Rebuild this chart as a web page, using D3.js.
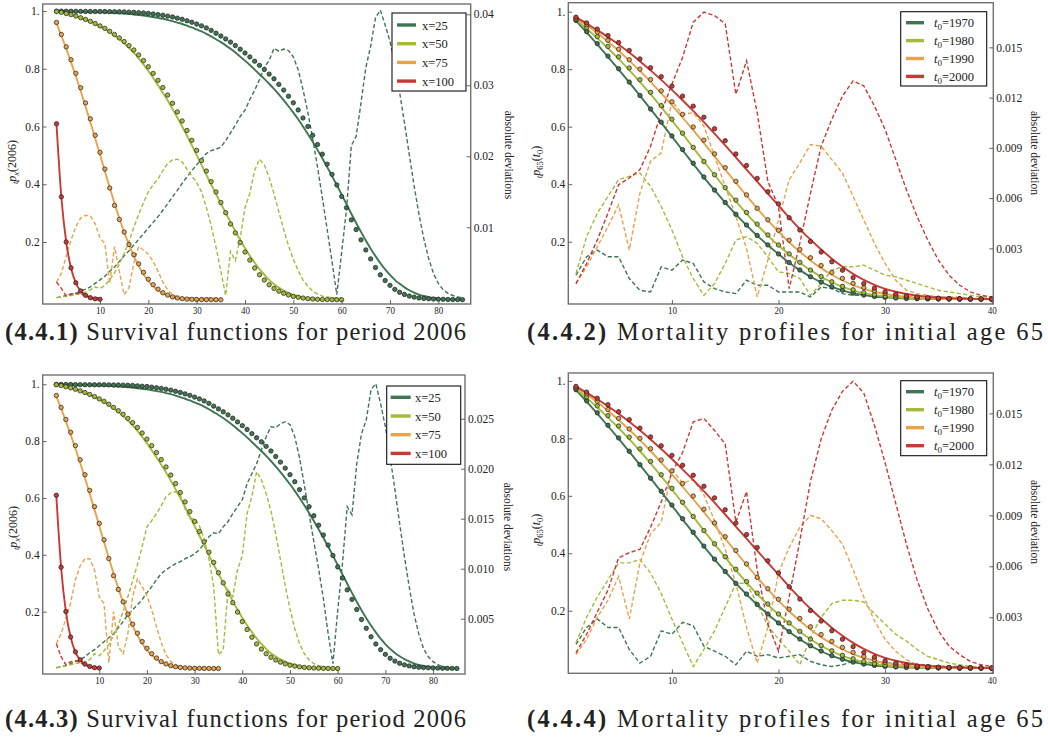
<!DOCTYPE html>
<html><head><meta charset="utf-8">
<script src="https://cdn.jsdelivr.net/npm/d3@7"></script>
<style>
body{margin:0;background:#fff}
svg{display:block}
text{font-family:"Liberation Serif","DejaVu Serif","Noto Serif",serif;fill:#222}
</style>
</head><body>
<svg id="c" width="1048" height="739"></svg>
<script>
// ---------- Survival functions, period 2006 (t = 1..n) ----------
const fit25 = [0.9995,0.9992,0.9988,0.9984,0.9980,0.9975,0.9970,0.9965,0.9960,0.9955,
 0.9950,0.9940,0.9930,0.9920,0.9910,0.9895,0.9880,0.9860,0.9840,0.9820,
 0.9790,0.9760,0.9730,0.9690,0.9650,0.9600,0.9550,0.9490,0.9430,0.9360,
 0.9290,0.9210,0.9120,0.9020,0.8920,0.8810,0.8690,0.8560,0.8420,0.8280,
 0.8130,0.7970,0.7810,0.7650,0.7480,0.7300,0.7110,0.6910,0.6700,0.6480,
 0.6250,0.6000,0.5740,0.5470,0.5190,0.4900,0.4600,0.4290,0.3970,0.3640,
 0.3310,0.2980,0.2660,0.2350,0.2050,0.1770,0.1510,0.1270,0.1050,0.0860,
 0.0690,0.0550,0.0430,0.0330,0.0250,0.0180,0.0130,0.0090,0.0060,0.0040,
 0.0027,0.0018,0.0011,0.0007,0.0004];
const obs25 = [0.9996,0.9994,0.9992,0.9990,0.9987,0.9985,0.9983,0.9981,0.9981,0.9981,
 0.9981,0.9978,0.9974,0.9972,0.9970,0.9962,0.9955,0.9943,0.9931,0.9919,
 0.9897,0.9875,0.9854,0.9823,0.9793,0.9752,0.9712,0.9661,0.9610,0.9548,
 0.9486,0.9414,0.9328,0.9230,0.9133,0.9032,0.8923,0.8804,0.8676,0.8545,
 0.8410,0.8263,0.8118,0.7975,0.7815,0.7652,0.7458,0.7261,0.7049,0.6820,
 0.6572,0.6294,0.6002,0.5695,0.5375,0.5042,0.4697,0.4342,0.3975,0.3575,
 0.3185,0.2765,0.2432,0.2075,0.1725,0.1415,0.1115,0.0864,0.0665,0.0498,
 0.0360,0.0260,0.0183,0.0128,0.0092,0.0062,0.0046,0.0034,0.0025,0.0019,
 0.0015,0.0011,0.0007,0.0005,0.0003];
const fit50 = [0.998,0.995,0.991,0.987,0.982,0.976,0.970,0.963,0.955,0.947,
 0.938,0.927,0.915,0.902,0.888,0.872,0.855,0.836,0.815,0.792,
 0.768,0.743,0.717,0.690,0.661,0.631,0.600,0.568,0.535,0.501,
 0.467,0.433,0.399,0.366,0.333,0.301,0.269,0.237,0.207,0.178,
 0.152,0.128,0.106,0.087,0.069,0.054,0.042,0.032,0.024,0.017,
 0.0125,0.0085,0.0056,0.0036,0.0022,0.0013,0.0008,0.0004,0.0002,0.0001];
const obs50 = [0.9981,0.9952,0.9913,0.9874,0.9825,0.9767,0.9709,0.9642,0.9566,0.9484,
 0.9398,0.9296,0.9186,0.9068,0.8943,0.8800,0.8650,0.8478,0.8285,0.8070,
 0.7840,0.7598,0.7350,0.7090,0.6805,0.6506,0.6192,0.5862,0.5522,0.5173,
 0.4820,0.4458,0.4092,0.3732,0.3368,0.3014,0.2624,0.2317,0.1985,0.1652,
 0.1372,0.1100,0.0864,0.0682,0.0520,0.0393,0.0298,0.0223,0.0166,0.0115,
 0.0086,0.0059,0.0039,0.0026,0.0016,0.0010,0.0006,0.0003,0.0001,0.0000];
const fit75 = [0.958,0.915,0.870,0.823,0.774,0.723,0.670,0.615,0.559,0.502,
 0.445,0.389,0.334,0.282,0.234,0.190,0.151,0.117,0.088,0.065,
 0.047,0.033,0.022,0.015,0.0095,0.006,0.0037,0.0022,0.0013,0.0007,
 0.0004,0.0002,0.0001,0.0001,0.0000];
const obs75 = [0.9603,0.9185,0.8759,0.8312,0.7841,0.7343,0.6817,0.6266,0.5695,0.5105,
 0.4527,0.3869,0.3267,0.2782,0.2345,0.1915,0.1560,0.1243,0.0948,0.0712,
 0.0522,0.0368,0.0243,0.0162,0.0100,0.0062,0.0038,0.0023,0.0014,0.0008,
 0.0005,0.0003,0.0002,0.0001,0.0000];
const fit100 = [0.607,0.355,0.200,0.110,0.058,0.030,0.015,0.007,0.003,0.0015];
const obs100 = [0.6093,0.3564,0.2003,0.1106,0.0587,0.0306,0.0154,0.0072,0.0031,0.0016];

// absolute deviations, figure 4.4.1
const dev25a = [0.0001,0.0002,0.0004,0.0006,0.0007,0.0010,0.0013,0.0016,0.0021,0.0026,
 0.0031,0.0038,0.0044,0.0052,0.0060,0.0067,0.0075,0.0083,0.0091,0.0099,
 0.0107,0.0115,0.0124,0.0133,0.0143,0.0152,0.0162,0.0171,0.0180,0.0188,
 0.0196,0.0204,0.0208,0.0210,0.0213,0.0222,0.0233,0.0244,0.0256,0.0265,
 0.0280,0.0293,0.0308,0.0325,0.0335,0.0352,0.0348,0.0351,0.0349,0.0340,
 0.0322,0.0294,0.0262,0.0225,0.0185,0.0142,0.0097,0.0052,0.0005,0.0065,
 0.0125,0.0215,0.0228,0.0275,0.0325,0.0355,0.0395,0.0406,0.0385,0.0362,
 0.0330,0.0290,0.0247,0.0202,0.0158,0.0118,0.0084,0.0056,0.0035,0.0021,
 0.0012,0.0007,0.0004,0.0002,0.0001];
const dev50a = [0.0001,0.0002,0.0003,0.0004,0.0005,0.0007,0.0009,0.0012,0.0016,0.0014,
 0.0018,0.0026,0.0036,0.0048,0.0063,0.0080,0.0100,0.0118,0.0135,0.0150,
 0.0160,0.0168,0.0180,0.0190,0.0195,0.0196,0.0192,0.0182,0.0172,0.0163,
 0.0150,0.0128,0.0102,0.0072,0.0038,0.0004,0.0066,0.0053,0.0085,0.0128,
 0.0148,0.0180,0.0196,0.0188,0.0170,0.0147,0.0122,0.0097,0.0074,0.0055,
 0.0039,0.0026,0.0017,0.0010,0.0006,0.0003,0.0002,0.0001,0.0001,0.0001];
const dev75a = [0.0023,0.0035,0.0059,0.0082,0.0101,0.0113,0.0117,0.0116,0.0105,0.0085,
 0.0077,0.0021,0.0073,0.0038,0.0005,0.0015,0.0050,0.0073,0.0068,0.0062,
 0.0052,0.0038,0.0023,0.0012,0.0005,0.0002,0.0001,0.0001,0.0001,0.0001,
 0.0001,0.0001,0.0001,0.0000,0.0000];
const dev100a = [0.0023,0.0014,0.0003,0.0006,0.0007,0.0006,0.0004,0.0002,0.0001,0.0001];

// absolute deviations, figure 4.4.3
const dev25b = [0.0001,0.0002,0.0003,0.0005,0.0007,0.0009,0.0012,0.0016,0.0019,0.0023,
 0.0027,0.0031,0.0035,0.0041,0.0047,0.0054,0.0059,0.0064,0.0069,0.0076,
 0.0082,0.0089,0.0095,0.0099,0.0102,0.0105,0.0107,0.0110,0.0112,0.0115,
 0.0119,0.0125,0.0132,0.0136,0.0135,0.0142,0.0147,0.0155,0.0162,0.0169,
 0.0185,0.0195,0.0205,0.0219,0.0232,0.0242,0.0241,0.0245,0.0247,0.0244,
 0.0232,0.0211,0.0184,0.0155,0.0127,0.0100,0.0070,0.0035,0.0005,0.0058,
 0.0105,0.0162,0.0154,0.0205,0.0235,0.0249,0.0279,0.0285,0.0265,0.0242,
 0.0212,0.0179,0.0145,0.0112,0.0082,0.0055,0.0035,0.0020,0.0012,0.0007,
 0.0004,0.0002,0.0001,0.0001,0.0000];
const dev50b = [0.0001,0.0002,0.0003,0.0004,0.0005,0.0006,0.0007,0.0009,0.0015,0.0013,
 0.0018,0.0024,0.0033,0.0044,0.0057,0.0072,0.0088,0.0104,0.0122,0.0142,
 0.0148,0.0155,0.0163,0.0172,0.0176,0.0177,0.0174,0.0160,0.0150,0.0150,
 0.0143,0.0130,0.0110,0.0082,0.0014,0.0019,0.0079,0.0072,0.0099,0.0113,
 0.0155,0.0172,0.0197,0.0189,0.0175,0.0158,0.0135,0.0109,0.0083,0.0060,
 0.0040,0.0025,0.0015,0.0009,0.0005,0.0003,0.0002,0.0001,0.0001,0.0001];
const dev75b = [0.0025,0.0035,0.0050,0.0066,0.0089,0.0103,0.0110,0.0110,0.0099,0.0072,
 0.0065,0.0006,0.0057,0.0022,0.0015,0.0035,0.0072,0.0090,0.0082,0.0073,
 0.0059,0.0042,0.0026,0.0014,0.0007,0.0004,0.0002,0.0001,0.0001,0.0001,
 0.0001,0.0001,0.0001,0.0000,0.0000];
const dev100b = [0.0025,0.0012,0.0004,0.0007,0.0008,0.0006,0.0004,0.0002,0.0001,0.0001];

// ---------- Mortality profiles, initial age 65 (t = 1..40) ----------
const fit1970 = [0.968,0.928,0.886,0.843,0.799,0.754,0.708,0.661,0.614,0.566,
 0.518,0.471,0.424,0.379,0.336,0.295,0.257,0.221,0.188,0.157,
 0.127,0.101,0.078,0.059,0.043,0.031,0.021,0.014,0.0095,0.0062,
 0.004,0.0025,0.0016,0.001,0.0006,0.0004,0.0002,0.0001,0.0001,0];
const obs1970 = [0.9694,0.9305,0.8889,0.8455,0.8015,0.7552,0.7085,0.6614,0.6159,0.5677,
 0.5203,0.4731,0.4250,0.3796,0.3364,0.2953,0.2581,0.2218,0.1888,0.1574,
 0.1274,0.1014,0.0781,0.0597,0.0436,0.0313,0.0212,0.0142,0.0096,0.0063,
 0.0041,0.0026,0.0017,0.0011,0.0007,0.0004,0.0002,0.0001,0.0001,0];
const fit1980 = [0.972,0.941,0.908,0.873,0.836,0.797,0.756,0.713,0.668,0.622,
 0.575,0.527,0.479,0.432,0.386,0.341,0.298,0.258,0.221,0.187,
 0.156,0.127,0.101,0.078,0.059,0.043,0.031,0.021,0.014,0.0095,
 0.0063,0.0041,0.0026,0.0017,0.0011,0.0007,0.0004,0.0003,0.0002,0.0001];
const obs1980 = [0.9735,0.9447,0.9131,0.8791,0.8431,0.8043,0.7635,0.7197,0.6735,0.6261,
 0.5775,0.5282,0.4792,0.4329,0.3881,0.3445,0.3017,0.2613,0.2235,0.1886,
 0.1575,0.1282,0.1012,0.0789,0.0607,0.0449,0.0329,0.0230,0.0157,0.0109,
 0.0076,0.0052,0.0035,0.0024,0.0016,0.0011,0.0007,0.0005,0.0003,0.0002];
const fit1990 = [0.977,0.953,0.926,0.896,0.864,0.830,0.794,0.756,0.716,0.675,
 0.632,0.588,0.543,0.497,0.451,0.405,0.360,0.316,0.274,0.235,
 0.198,0.165,0.135,0.108,0.085,0.065,0.049,0.036,0.026,0.018,
 0.0125,0.0085,0.0056,0.0036,0.0023,0.0015,0.0009,0.0006,0.0004,0.0002];
const obs1990 = [0.9779,0.9549,0.9291,0.9003,0.8696,0.8329,0.8003,0.7642,0.7247,0.6868,
 0.6430,0.5991,0.5533,0.5055,0.4577,0.4099,0.3630,0.3161,0.2763,0.2397,
 0.2051,0.1731,0.1442,0.1171,0.0933,0.0725,0.0551,0.0407,0.0293,0.0201,
 0.0136,0.0090,0.0059,0.0038,0.0024,0.0016,0.0010,0.0006,0.0004,0.0002];
const fit2000 = [0.980,0.959,0.936,0.912,0.886,0.858,0.828,0.796,0.763,0.728,
 0.692,0.655,0.616,0.576,0.535,0.493,0.451,0.409,0.367,0.326,
 0.284,0.244,0.207,0.173,0.141,0.113,0.088,0.067,0.050,0.036,
 0.026,0.018,0.0125,0.0085,0.0057,0.0038,0.0025,0.0016,0.0010,0.0006];
const obs2000 = [0.9809,0.9611,0.9395,0.9171,0.8928,0.8652,0.8357,0.8051,0.7741,0.7408,
 0.7064,0.6715,0.6331,0.5929,0.5514,0.5052,0.4652,0.4201,0.3740,0.3315,
 0.2834,0.2407,0.2007,0.1639,0.1303,0.1009,0.0750,0.0543,0.0385,0.0259,
 0.0177,0.0115,0.0076,0.0050,0.0034,0.0024,0.0017,0.0012,0.0008,0.0005];

// absolute deviation, figure 4.4.2
const dev1970a = [0.0014,0.0025,0.0029,0.0025,0.0025,0.0012,0.0005,0.0004,0.0019,0.0017,
 0.0023,0.0021,0.0010,0.0006,0.0004,0.0003,0.0011,0.0008,0.0008,0.0004,
 0.0004,0.0004,0.0001,0.0007,0.0006,0.0003,0.0002,0.0002,0.0001,0.0001,
 0.0001,0.0001,0.0001,0.0001,0.0001,0,0,0,0,0];
const dev1980a = [0.0015,0.0037,0.0051,0.0061,0.0071,0.0073,0.0075,0.0067,0.0055,0.0041,
 0.0025,0.0012,0.0002,0.0009,0.0021,0.0035,0.0037,0.0033,0.0025,0.0016,
 0.0015,0.0012,0.0002,0.0009,0.0017,0.0019,0.0019,0.0020,0.0017,0.0014,
 0.0013,0.0011,0.0009,0.0007,0.0005,0.0004,0.0003,0.0002,0.0001,0.0001];
const dev1990a = [0.0009,0.0019,0.0031,0.0043,0.0056,0.0029,0.0063,0.0082,0.0087,0.0118,
 0.0110,0.0111,0.0103,0.0085,0.0067,0.0049,0.0030,0.0001,0.0023,0.0047,
 0.0071,0.0081,0.0092,0.0091,0.0083,0.0075,0.0061,0.0047,0.0033,0.0021,
 0.0011,0.0005,0.0003,0.0002,0.0001,0.0001,0.0001,0,0,0];
const dev2000a = [0.0009,0.0021,0.0035,0.0051,0.0068,0.0072,0.0077,0.0091,0.0111,0.0128,
 0.0144,0.0165,0.0171,0.0169,0.0164,0.0122,0.0142,0.0111,0.0070,0.0055,
 0.0006,0.0033,0.0063,0.0091,0.0107,0.0121,0.0130,0.0127,0.0115,0.0101,
 0.0083,0.0065,0.0049,0.0035,0.0023,0.0014,0.0008,0.0004,0.0002,0.0001];

// absolute deviation, figure 4.4.4
const dev1970b = [0.0014,0.0024,0.0029,0.0024,0.0024,0.0011,0.0003,0.0007,0.0022,0.0020,
 0.0027,0.0025,0.0013,0.0010,0.0007,0.0002,0.0010,0.0007,0.0008,0.0006,
 0.0007,0.0008,0.0004,0.0002,0.0001,0.0002,0.0004,0.0004,0.0003,0.0003,
 0.0003,0.0002,0.0002,0.0002,0.0001,0.0001,0.0001,0.0001,0,0];
const dev1980b = [0.0015,0.0030,0.0042,0.0052,0.0062,0.0062,0.0064,0.0056,0.0044,0.0029,
 0.0015,0.0001,0.0011,0.0022,0.0036,0.0050,0.0050,0.0038,0.0025,0.0017,
 0.0010,0.0002,0.0018,0.0030,0.0038,0.0040,0.0040,0.0039,0.0032,0.0026,
 0.0020,0.0016,0.0011,0.0007,0.0005,0.0003,0.0002,0.0001,0.0001,0];
const dev1990b = [0.0008,0.0017,0.0030,0.0040,0.0054,0.0029,0.0062,0.0079,0.0086,0.0117,
 0.0109,0.0111,0.0102,0.0087,0.0070,0.0050,0.0024,0.0003,0.0024,0.0056,
 0.0071,0.0083,0.0090,0.0088,0.0081,0.0073,0.0058,0.0042,0.0028,0.0017,
 0.0010,0.0005,0.0002,0.0001,0.0001,0,0,0,0,0];
const dev2000b = [0.0009,0.0020,0.0033,0.0046,0.0065,0.0068,0.0070,0.0083,0.0098,0.0115,
 0.0127,0.0145,0.0147,0.0140,0.0132,0.0086,0.0104,0.0058,0.0026,0.0010,
 0.0042,0.0075,0.0110,0.0135,0.0152,0.0163,0.0169,0.0162,0.0143,0.0121,
 0.0097,0.0073,0.0052,0.0035,0.0022,0.0013,0.0008,0.0004,0.0002,0.0001];

// ---------- labels & ticks ----------
const survLabels = ["x=25","x=50","x=75","x=100"];
const cohortYears = ["1970","1980","1990","2000"];
const leftTicks = [0.2,0.4,0.6,0.8,1.0];
const survXTicks = [10,20,30,40,50,60,70,80];
const profXTicks = [10,20,30,40];
const rTicksA = [0.01,0.02,0.03,0.04];
const rTicksB = [0.005,0.010,0.015,0.020,0.025];
const rTicksC = [0.003,0.006,0.009,0.012,0.015];
const captions = [
  ["(4.4.1)"," Survival functions for period 2006"],
  ["(4.4.2)"," Mortality profiles for initial age 65"],
  ["(4.4.3)"," Survival functions for period 2006"],
  ["(4.4.4)"," Mortality profiles for initial age 65"]
];
const colors = ["#3f7552","#a3bb3c","#e8a34d","#c93935"];
const FONT = "Liberation Serif, DejaVu Serif, Noto Serif, serif";

const svg = d3.select("#c");
const defs = svg.append("defs");

function drawPanel(p) {
  const g = svg.append("g");
  const x = d3.scaleLinear().domain(p.xDom).range([p.x0, p.x1]);
  const y = d3.scaleLinear().domain(p.yDom).range([p.y1, p.y0]);
  const r = d3.scaleLinear().domain(p.rDom).range([p.y1, p.y0]);
  defs.append("clipPath").attr("id","clip"+p.id).append("rect")
    .attr("x",p.x0).attr("y",p.y0).attr("width",p.x1-p.x0).attr("height",p.y1-p.y0);
  const plot = g.append("g").attr("clip-path",`url(#clip${p.id})`);
  const pts = arr => arr.map((v,i)=>({t:i+1, v}));
  p.devs.forEach((dv,k)=>{
    plot.append("path").datum(pts(dv))
      .attr("d", d3.line().x(d=>x(d.t)).y(d=>r(d.v)))
      .attr("fill","none").attr("stroke",colors[k]).attr("stroke-width",1.4)
      .attr("stroke-dasharray","4.2,2.4");
  });
  p.fits.forEach((fv,k)=>{
    plot.append("path").datum(pts(fv))
      .attr("d", d3.line().curve(d3.curveMonotoneX).x(d=>x(d.t)).y(d=>y(d.v)))
      .attr("fill","none").attr("stroke",colors[k]).attr("stroke-width",1.9);
  });
  p.obs.forEach((ov,k)=>{
    plot.append("g").selectAll("circle").data(pts(ov)).join("circle")
      .attr("cx",d=>x(d.t)).attr("cy",d=>y(d.v)).attr("r",2.2)
      .attr("fill",colors[k]).attr("stroke","#1e1e1e").attr("stroke-width",0.7);
  });
  g.append("rect").attr("x",p.x0).attr("y",p.y0).attr("width",p.x1-p.x0).attr("height",p.y1-p.y0)
    .attr("fill","none").attr("stroke","#707070").attr("stroke-width",1.4);
  const styleAxis = (ax, fs) => {
    ax.select(".domain").remove();
    ax.attr("font-family",FONT).attr("font-size",fs);
    ax.selectAll(".tick line").attr("stroke","#555").attr("stroke-width",0.9);
    ax.selectAll("text").attr("fill","#222");
  };
  const la = g.append("g").attr("transform",`translate(${p.x0},0)`)
    .call(d3.axisLeft(y).tickValues(leftTicks).tickSize(-4).tickPadding(3)
      .tickFormat(v => v===1 ? "1." : d3.format(".1f")(v)));
  styleAxis(la, 11.5);
  const ra = g.append("g").attr("transform",`translate(${p.x1},0)`)
    .call(d3.axisRight(r).tickValues(p.rTicks).tickSize(-4).tickPadding(3).tickFormat(d3.format(p.rFmt)));
  styleAxis(ra, 11.5);
  const ba = g.append("g").attr("transform",`translate(0,${p.y1})`)
    .call(d3.axisBottom(x).tickValues(p.xTicks).tickSize(-4).tickPadding(2.5).tickFormat(d3.format("d")));
  styleAxis(ba, 11);
  ba.selectAll("text").attr("textLength",9).attr("lengthAdjust","spacingAndGlyphs");

  const lt = g.append("text").attr("transform",`translate(${p.ltX},${p.ltY}) rotate(-90)`)
    .attr("text-anchor","middle").attr("font-size",12);
  p.leftTitle(lt);
  g.append("text").attr("transform",`translate(${p.rtX},${p.rtY}) rotate(90)`)
    .attr("text-anchor","middle").attr("font-size",11.5).text(p.rightTitle);

  const L = p.legend;
  g.append("rect").attr("x",L.x0).attr("y",L.y0).attr("width",L.x1-L.x0).attr("height",L.y1-L.y0)
    .attr("fill","#fff").attr("stroke","#111").attr("stroke-width",1.1);
  L.labels.forEach((lab,k)=>{
    const yy = L.row0 + k*L.step;
    g.append("line").attr("x1",L.s0).attr("x2",L.s1).attr("y1",yy).attr("y2",yy)
      .attr("stroke",colors[k]).attr("stroke-width",3.4);
    const tx = g.append("text").attr("x",L.tx).attr("y",yy).attr("dy","0.36em").attr("font-size",12.5);
    L.render(tx, lab);
  });
}

const survTitle = t => {
  t.append("tspan").attr("font-style","italic").attr("font-size",8.5).attr("dy",2).text("t");
  t.append("tspan").attr("font-style","italic").attr("dy",-2).text("p");
  t.append("tspan").attr("font-style","italic").attr("font-size",8.5).attr("dy",2.5).text("x");
  t.append("tspan").attr("dy",-2.5).text("(2006)");
};
const profTitle = t => {
  t.append("tspan").attr("font-style","italic").attr("font-size",8.5).attr("dy",2).text("t");
  t.append("tspan").attr("font-style","italic").attr("dy",-2).text("p");
  t.append("tspan").attr("font-size",8.5).attr("dy",2.5).text("65");
  t.append("tspan").attr("dy",-2.5).text("(");
  t.append("tspan").attr("font-style","italic").text("t");
  t.append("tspan").attr("font-size",8.5).attr("dy",2.5).text("0");
  t.append("tspan").attr("dy",-2.5).text(")");
};
const plainLegend = (t, lab) => t.text(lab);
const cohortLegend = (t, yr) => {
  t.append("tspan").attr("font-style","italic").text("t");
  t.append("tspan").attr("font-size",9).attr("dy",3).text("0");
  t.append("tspan").attr("dy",-3).text("=" + yr);
};

drawPanel({id:1, x0:42.7, x1:470.7, y0:4, y1:304, xDom:[-1.86,86.7], yDom:[-0.0147,1.0242], rDom:[-0.0008,0.04145],
  fits:[fit25,fit50,fit75,fit100], obs:[obs25,obs50,obs75,obs100], devs:[dev25a,dev50a,dev75a,dev100a],
  xTicks:survXTicks, rTicks:rTicksA, rFmt:".2f",
  ltX:16, ltY:162, leftTitle:survTitle, rtX:505, rtY:155, rightTitle:"absolute deviations",
  legend:{x0:392, y0:13, x1:466, y1:91, row0:25, step:18.7, s0:397, s1:416, tx:422, labels:survLabels, render:plainLegend}});

drawPanel({id:2, x0:568.3, x1:993.3, y0:2.7, y1:304, xDom:[0.28,40.15], yDom:[-0.0167,1.0313], rDom:[-0.00032,0.017665],
  fits:[fit1970,fit1980,fit1990,fit2000], obs:[obs1970,obs1980,obs1990,obs2000], devs:[dev1970a,dev1980a,dev1990a,dev2000a],
  xTicks:profXTicks, rTicks:rTicksC, rFmt:".3f",
  ltX:540, ltY:162, leftTitle:profTitle, rtX:1031, rtY:153, rightTitle:"absolute deviation",
  legend:{x0:900.7, y0:11.7, x1:986.7, y1:86, row0:22.7, step:17.9, s0:906, s1:924, tx:934, labels:cohortYears, render:cohortLegend}});

drawPanel({id:3, x0:42.7, x1:465, y0:375, y1:674, xDom:[-1.86,86.7], yDom:[-0.0193,1.0325], rDom:[-0.00053,0.02937],
  fits:[fit25,fit50,fit75,fit100], obs:[obs25,obs50,obs75,obs100], devs:[dev25b,dev50b,dev75b,dev100b],
  xTicks:survXTicks, rTicks:rTicksB, rFmt:".3f",
  ltX:17, ltY:528, leftTitle:survTitle, rtX:504, rtY:527, rightTitle:"absolute deviations",
  legend:{x0:386.7, y0:386, x1:460.7, y1:464.3, row0:397.3, step:18.7, s0:390.7, s1:410.7, tx:415, labels:survLabels, render:plainLegend}});

drawPanel({id:4, x0:568.3, x1:993.3, y0:373, y1:673.3, xDom:[0.28,40.15], yDom:[-0.0178,1.0275], rDom:[-0.0003,0.01738],
  fits:[fit1970,fit1980,fit1990,fit2000], obs:[obs1970,obs1980,obs1990,obs2000], devs:[dev1970b,dev1980b,dev1990b,dev2000b],
  xTicks:profXTicks, rTicks:rTicksC, rFmt:".3f",
  ltX:540, ltY:530, leftTitle:profTitle, rtX:1031, rtY:522, rightTitle:"absolute deviation",
  legend:{x0:900.7, y0:380.7, x1:986.7, y1:455.7, row0:391.7, step:18, s0:906, s1:924, tx:934, labels:cohortYears, render:cohortLegend}});

// captions: font size chosen so each caption spans the reference width
const capPos = [[5,340,461],[527,340,516],[5,727,461],[527,727,516]];
captions.forEach((c,i)=>{
  const [cx,cy,w] = capPos[i];
  const t = svg.append("text").attr("x",cx).attr("y",cy).attr("font-size",20);
  t.append("tspan").attr("font-weight","bold").text(c[0]);
  t.append("tspan").text(c[1]);
  const nat = t.node().getComputedTextLength();
  const fs = Math.max(17, Math.min(24.5, 20 * w / nat));
  t.attr("font-size", fs);
  const nat2 = t.node().getComputedTextLength();
  if (Math.abs(nat2 - w) > 2) t.attr("textLength", w).attr("lengthAdjust","spacing");
});
</script>
</body></html>
